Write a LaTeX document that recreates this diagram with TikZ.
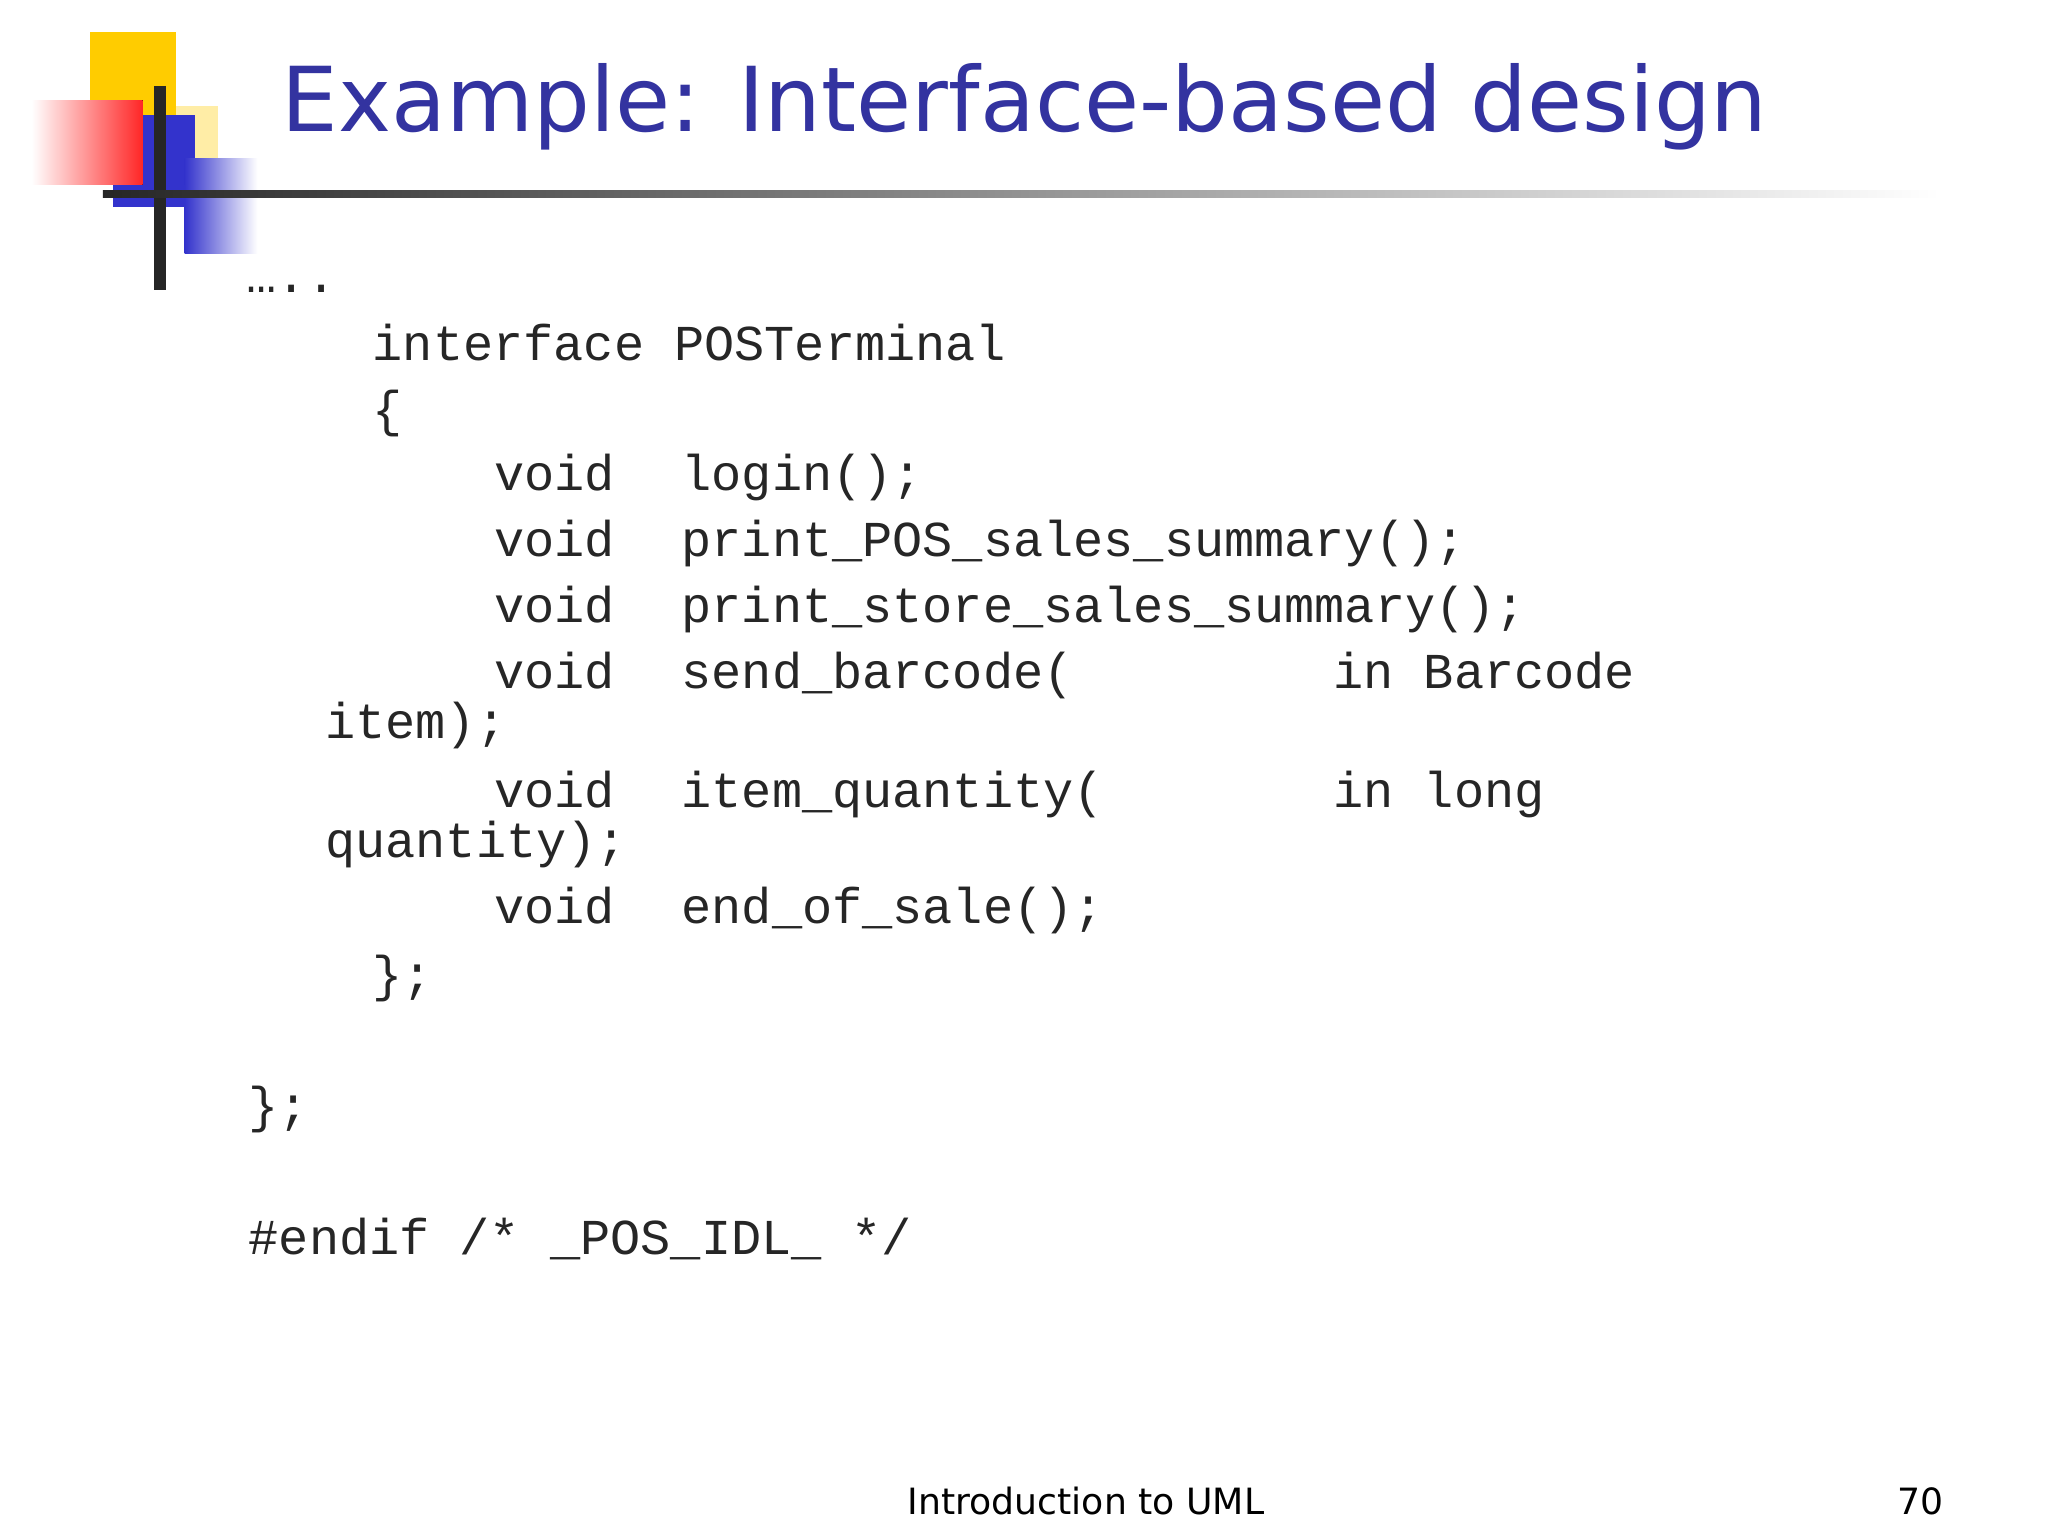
\documentclass[tikz,border=0pt]{standalone}
\usepackage{fontspec}
\setmainfont{DejaVu Sans}
\newfontfamily\codefont{Liberation Mono}
\usetikzlibrary{fadings}
\definecolor{titleblue}{HTML}{3333A0}
\definecolor{logoyellow}{HTML}{FFCC00}
\definecolor{logoblue}{HTML}{3333CC}
\begin{document}
\begin{tikzpicture}[x=0.013196cm,y=-0.013196cm,
  code/.style={anchor=base west,inner sep=0,text=black!85,font=\codefont\fontsize{14.3pt}{17pt}\selectfont},
  foot/.style={anchor=base,inner sep=0,font=\fontsize{10.3pt}{12pt}\selectfont}]
\useasboundingbox[fill=white] (0,0) rectangle (1552,1164);
% logo
\fill[logoyellow] (68,24) rectangle (133,88);
\fill[logoyellow!35] (133,80) rectangle (165,120);
\fill[left color=white,right color=red!85] (24,76) rectangle (108,140);
\fill[logoblue] (108,87) rectangle (148,157);
\fill[left color=logoblue,right color=white] (140,120) rectangle (195,192);
\fill[logoblue] (86,140) rectangle (140,157);
\draw[line width=3.5pt,black!85] (121,65) -- (121,220);
\fill[left color=black!85,right color=white] (78,144) rectangle (1470,150);
% title
\node[anchor=base west,inner sep=0,text=titleblue] (title) at (213,100)
  {\resizebox{1130\dimexpr0.3742pt\relax}{!}{\fontsize{30pt}{36pt}\selectfont Example: Interface-based design}};
% code
\node[code] (l0) at (186,222) {…..};
\node[code] (l1) at (282,273) {interface POSTerminal};
\node[code] (l2) at (282,323) {\{};
\foreach \n/\y/\t in {a/372/login();, b/422/print\_POS\_sales\_summary();, c/472/print\_store\_sales\_summary();, d/522/send\_barcode(, e/612/item\_quantity(, f/700/end\_of\_sale();}{
  \node[code] (v\n) at (374,\y) {void};
  \node[code] (m\n) at (516,\y) {\t};
}
\node[code] (pd) at (1010,522) {in Barcode};
\node[code] (wd) at (246,560) {item);};
\node[code] (pe) at (1010,612) {in long};
\node[code] (we) at (246,650) {quantity);};
\node[code] (l3) at (282,751) {\};};
\node[code] (l4) at (188,851) {\};};
\node[code] (l5) at (188,951) {\#endif /* \_POS\_IDL\_ */};
% footer
\node[foot] (ft) at (823,1148) {Introduction to UML};
\node[foot,anchor=base east] (pg) at (1473,1148) {70};
\end{tikzpicture}
\end{document}
